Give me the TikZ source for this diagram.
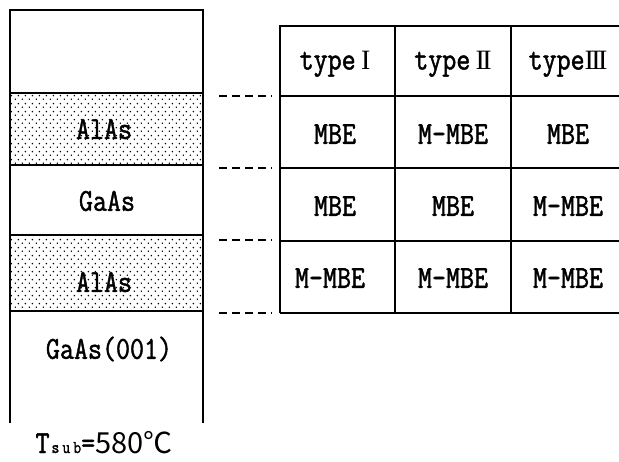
\documentclass[tikz,border=0pt]{standalone}
\usepackage{fontspec}
\setmonofont{Latin Modern Mono}[FakeStretch=0.85,FakeBold=1.4]
\newfontfamily\numfont{Liberation Serif}
\newfontfamily\cjk{Noto Sans CJK JP}
\usetikzlibrary{patterns.meta}
\tikzdeclarepattern{
  name=sparsedots,
  type=uncolored,
  bounding box={(0pt,0pt) and (7pt,8pt)},
  tile size={(7pt,8pt)},
  code={
    \fill (1.5pt,2pt) circle (0.9pt);
    \fill (5pt,6pt) circle (0.9pt);
  }
}
\newcommand{\romI}{{\numfont\fontsize{28}{30}\selectfont I}}
\newcommand{\romII}{{\numfont\fontsize{28}{30}\selectfont I\kern-2.6pt I}}
\newcommand{\romIII}{{\numfont\fontsize{28}{30}\selectfont I\kern-2.6pt I\kern-2.6pt I}}
\tikzset{
  layer/.style={line width=2.8pt},
  grid/.style={line width=1.4pt},
  lead/.style={line width=1.8pt, dash pattern=on 8pt off 5pt},
  lbl/.style={font=\fontsize{32}{34}\selectfont\ttfamily, inner sep=0pt},
}
\begin{document}
\begin{tikzpicture}[x=1pt,y=-1pt]
\useasboundingbox (0,0) rectangle (619,461);
% stack
\fill[pattern=sparsedots] (10,93) rectangle (203,165);
\fill[pattern=sparsedots] (10,235) rectangle (203,311);
\draw[layer] (10,423) -- (10,10) -- (203,10) -- (203,423);
\draw[layer] (10,93) -- (203,93);
\draw[layer] (10,165) -- (203,165);
\draw[layer] (10,235) -- (203,235);
\draw[layer] (10,311) -- (203,311);
\node[lbl] (alas1) at (104,129) {AlAs};
\node[lbl] (gaas) at (107,201) {GaAs};
\node[lbl] (alas2) at (104,282) {AlAs};
\node[lbl] (sub) at (109,349) {GaAs(001)};
\node[lbl, anchor=base, text depth=0pt] (tsub) at (104,453) {T\hspace{2pt}{\fontsize{18}{18}\selectfont s\,u\,b}={\cjk\fontsize{29}{30}\selectfont 580℃}};
% leads
\coordinate (l1a) at (219,96); \coordinate (l1b) at (272,96);
\coordinate (l2a) at (219,168); \coordinate (l2b) at (272,168);
\coordinate (l3a) at (219,240); \coordinate (l3b) at (272,240);
\coordinate (l4a) at (219,313); \coordinate (l4b) at (272,313);
\draw[lead] (l1a) -- (l1b);
\draw[lead] (l2a) -- (l2b);
\draw[lead] (l3a) -- (l3b);
\draw[lead] (l4a) -- (l4b);
% table
\begin{scope}
\clip (0,0) rectangle (619,461);
\draw[grid] (280,313) -- (280,26) -- (630,26);
\draw[grid] (280,96) -- (630,96);
\draw[grid] (280,168) -- (630,168);
\draw[grid] (280,241) -- (630,241);
\draw[grid] (280,313) -- (630,313);
\end{scope}
\draw[grid] (395,26) -- (395,313);
\draw[grid] (511,26) -- (511,313);
\node[lbl] (h1) at (335,64) {type\,\romI};
\node[lbl] (h2) at (453,64) {type\,\romII};
\node[lbl] (h3) at (568,64) {type\romIII};
\node[lbl] (c11) at (335,134) {MBE};
\node[lbl] (c12) at (453,134) {M-MBE};
\node[lbl] (c13) at (568,134) {MBE};
\node[lbl] (c21) at (335,206) {MBE};
\node[lbl] (c22) at (453,206) {MBE};
\node[lbl] (c23) at (568,206) {M-MBE};
\node[lbl] (c31) at (330,278) {M-MBE};
\node[lbl] (c32) at (453,278) {M-MBE};
\node[lbl] (c33) at (568,278) {M-MBE};
\end{tikzpicture}
\end{document}
